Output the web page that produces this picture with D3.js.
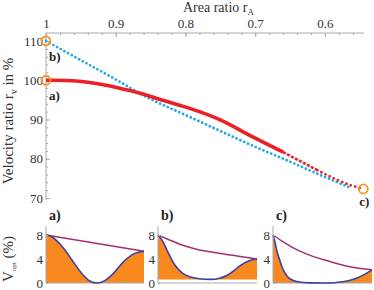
<!DOCTYPE html>
<html>
<head>
<meta charset="utf-8">
<script src="https://cdn.jsdelivr.net/npm/d3@7"></script>
<style>
  body { margin: 0; background: #fff; }
  svg, svg text { font-family: "Liberation Serif", "DejaVu Serif", serif; }
</style>
</head>
<body>
<div id="chart"></div>
<script>
const width = 374;
const height = 290;

// main chart data: [area ratio, velocity ratio]
const areaTicks = [1, 0.9, 0.8, 0.7, 0.6];
const velocityTicks = [70, 80, 90, 100, 110];
const redCurve = [[1, 100], [0.97, 99.95], [0.94, 99.5], [0.91, 98.6], [0.89, 97.8], [0.865, 96.7],
  [0.84, 95.3], [0.81, 93.7], [0.78, 92.0], [0.75, 89.9], [0.707, 85.9], [0.66, 81.7],
  [0.611, 77.1], [0.564, 73.3], [0.545, 72.3]];
const blueCurve = [[1, 110], [0.95, 105.1], [0.9, 100.2], [0.865, 96.6], [0.841, 94.4],
  [0.822, 92.9], [0.769, 88.6], [0.697, 82.8], [0.66, 80.0], [0.611, 76.2], [0.565, 72.7]];
const markers = [[1, 110], [1, 100], [0.545, 72.3]];
const markerNames = ['b)', 'a)', 'c)'];

// small panels: [position along bore 0..1, V_opt in %]
const panelNames = ['a)', 'b)', 'c)'];
const panelTicks = [0, 4, 8];
const panelFloor = [0, 0.6, 0];
const optA = [[0, 8], [0.05, 7.8], [0.1, 7.2], [0.19, 5.6], [0.27, 3.7], [0.37, 1.5], [0.45, 0.3],
  [0.52, 0], [0.6, 0.4], [0.67, 1.3], [0.75, 2.8], [0.82, 4.0], [0.9, 4.9], [1, 5.3]];
const boundA = [[0, 8], [1, 5.3]];
const optB = [[0, 8], [0.05, 6.9], [0.09, 5.5], [0.17, 3.0], [0.25, 1.6], [0.33, 1.0], [0.42, 0.7],
  [0.53, 0.6], [0.62, 0.8], [0.7, 1.3], [0.77, 2.1], [0.83, 2.9], [0.92, 3.7], [1, 4.0]];
const boundB = [[0, 8], [0.1, 7.3], [0.25, 6.3], [0.4, 5.6], [0.6, 5.0], [0.8, 4.5], [1, 4.0]];
const optC = [[0, 8], [0.02, 6.8], [0.04, 5.3], [0.07, 3.7], [0.09, 2.7], [0.12, 1.7], [0.15, 1.0],
  [0.2, 0.45], [0.25, 0.2], [0.37, 0.02], [0.5, 0], [0.62, 0.05], [0.7, 0.2], [0.78, 0.45],
  [0.85, 0.85], [0.92, 1.4], [1, 2.2]];
const boundC = [[0, 8], [0.1, 6.9], [0.2, 5.9], [0.33, 4.9], [0.54, 3.75], [0.7, 3.0], [0.85, 2.5], [1, 2.2]];
const panelOpt = [optA, optB, optC];
const panelBound = [boundA, boundB, boundC];

const axisColor = '#a8a8a8';
const textColor = '#333';
const serif = '"Liberation Serif", "DejaVu Serif", serif';

const svg = d3.select('#chart')
  .append('svg')
    .attr('width', width)
    .attr('height', height);

const xScale = d3.scaleLinear().domain([1, 0.544]).range([46, 364]);
const yScale = d3.scaleLinear().domain([70, 110]).range([198, 41]);

// axes of the main chart
const styleAxis = g => {
  g.attr('font-family', serif).attr('font-size', 13);
  g.selectAll('text')
    .attr('fill', textColor)
    .style('font-family', serif)
    .style('font-size', '13px');
  g.selectAll('line').attr('stroke', axisColor);
  g.selectAll('.domain').remove();
};

svg.append('g')
    .attr('transform', 'translate(0,33)')
    .call(d3.axisTop(xScale).tickValues(d3.range(1, 0.55, -0.02)).tickSize(-2).tickFormat(''))
    .call(styleAxis);
svg.append('g')
    .attr('transform', 'translate(0,33)')
    .call(d3.axisTop(xScale).tickValues(areaTicks).tickSize(-4).tickPadding(5)
      .tickFormat(d => d === 1 ? '1' : d3.format('.1f')(d)))
    .call(styleAxis);
svg.append('g')
    .attr('transform', 'translate(46,0)')
    .call(d3.axisLeft(yScale).tickValues(d3.range(70, 111, 2)).tickSize(-2).tickFormat(''))
    .call(styleAxis);
svg.append('g')
    .attr('transform', 'translate(46,0)')
    .call(d3.axisLeft(yScale).tickValues(velocityTicks).tickSize(-4).tickPadding(3))
    .call(styleAxis);

svg.append('line')
    .attr('x1', 46).attr('x2', 364).attr('y1', 33).attr('y2', 33)
    .attr('stroke', axisColor);
svg.append('line')
    .attr('x1', 46).attr('x2', 46).attr('y1', 33).attr('y2', 200)
    .attr('stroke', axisColor);

// titles
svg.append('text')
    .attr('x', 183).attr('y', 12)
    .attr('fill', textColor)
    .style('font-size', '14px')
    .text('Area ratio r')
  .append('tspan')
    .attr('dy', 2.5)
    .style('font-size', '9px')
    .text('A');

const yTitle = svg.append('text')
    .attr('transform', 'translate(13,121) rotate(-90)')
    .attr('text-anchor', 'middle')
    .attr('fill', textColor)
    .style('font-size', '15px')
    .text('Velocity ratio r');
yTitle.append('tspan').attr('dy', 3.5).style('font-size', '10px').text('v');
yTitle.append('tspan').attr('dy', -3.5).text(' in %');

// curves
const line = d3.line()
  .x(d => xScale(d[0]))
  .y(d => yScale(d[1]))
  .curve(d3.curveMonotoneX);

svg.append('path')
    .attr('d', line(blueCurve))
    .attr('fill', 'none')
    .attr('stroke', '#1ea9e6')
    .attr('stroke-width', 2.8)
    .attr('stroke-linecap', 'round')
    .attr('stroke-dasharray', '0,4.2');

svg.append('path')
    .attr('d', line(redCurve.filter(d => d[0] <= 0.632)))
    .attr('fill', 'none')
    .attr('stroke', '#ec1f26')
    .attr('stroke-width', 2.8)
    .attr('stroke-linecap', 'round')
    .attr('stroke-dasharray', '0,4.6');
svg.append('path')
    .attr('d', line(redCurve.filter(d => d[0] >= 0.611 && d[0] <= 0.66)))
    .attr('fill', 'none')
    .attr('stroke', '#ec1f26')
    .attr('stroke-width', 2.6)
    .attr('stroke-dasharray', '3,1.5');
svg.append('path')
    .attr('d', line(redCurve.filter(d => d[0] >= 0.66)))
    .attr('fill', 'none')
    .attr('stroke', '#ec1f26')
    .attr('stroke-width', 3.6);

svg.selectAll('.marker')
  .data(markers)
  .enter()
  .append('circle')
    .attr('class', 'marker')
    .attr('cx', d => xScale(d[0]))
    .attr('cy', d => yScale(d[1]))
    .attr('r', 4.5)
    .attr('fill', 'none')
    .attr('stroke', '#f7941e')
    .attr('stroke-width', 1.8);

svg.selectAll('.markerName')
  .data(markers)
  .enter()
  .append('text')
    .attr('class', 'markerName')
    .attr('x', (d, i) => i === 2 ? xScale(d[0]) + 6 : xScale(d[0]) + 3)
    .attr('y', (d, i) => i === 2 ? yScale(d[1]) + 17 : yScale(d[1]) + 20)
    .attr('text-anchor', (d, i) => i === 2 ? 'end' : 'start')
    .attr('fill', '#222')
    .style('font-size', '13px')
    .style('font-weight', 'bold')
    .text((d, i) => markerNames[i]);

// small panels
const panelX = [[46, 144], [158, 257], [273, 372]];
const py = d3.scaleLinear().domain([0, 8]).range([283, 235]);

panelNames.forEach((name, i) => {
  const px = d3.scaleLinear().domain([0, 1]).range(panelX[i]);
  const g = svg.append('g').attr('class', 'panel');

  const area = d3.area()
    .x(d => px(d[0]))
    .y0(py(panelFloor[i]))
    .y1(d => py(d[1]))
    .curve(d3.curveMonotoneX);
  const pline = d3.line()
    .x(d => px(d[0]))
    .y(d => py(d[1]))
    .curve(d3.curveMonotoneX);

  g.append('path')
      .attr('d', area(panelOpt[i]))
      .attr('fill', '#f7891f');

  g.append('line')
      .attr('x1', panelX[i][0]).attr('x2', panelX[i][1])
      .attr('y1', py(0)).attr('y2', py(0))
      .attr('stroke', axisColor);

  g.append('path')
      .attr('d', pline(panelBound[i]))
      .attr('fill', 'none')
      .attr('stroke', '#a3306f')
      .attr('stroke-width', 1.5);
  g.append('path')
      .attr('d', pline(panelOpt[i]))
      .attr('fill', 'none')
      .attr('stroke', '#3b3fa8')
      .attr('stroke-width', 1.6);

  g.append('g')
      .attr('transform', `translate(${panelX[i][0]},0)`)
      .call(d3.axisLeft(py).tickValues(panelTicks).tickSize(-2).tickPadding(3))
      .call(styleAxis);
  g.append('line')
      .attr('x1', panelX[i][0]).attr('x2', panelX[i][0])
      .attr('y1', 226).attr('y2', py(0))
      .attr('stroke', axisColor);

  g.append('text')
      .attr('x', panelX[i][0] + 3)
      .attr('y', 220)
      .attr('fill', '#222')
      .style('font-size', '14px')
      .style('font-weight', 'bold')
      .text(name);
});

const vTitle = svg.append('text')
    .attr('transform', 'translate(13,259) rotate(-90)')
    .attr('text-anchor', 'middle')
    .attr('fill', textColor)
    .style('font-size', '15px')
    .text('V');
vTitle.append('tspan').attr('dy', 3).style('font-size', '7px').text('opt');
vTitle.append('tspan').attr('dy', -3).text(' (%)');
</script>
</body>
</html>
